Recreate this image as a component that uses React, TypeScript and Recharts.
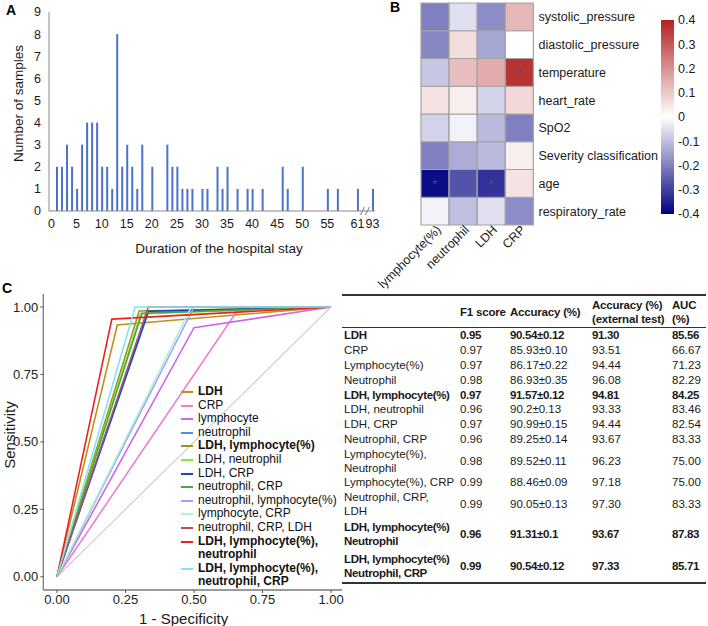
import React from 'react';
import { BarChart, Bar, XAxis, YAxis, Cell, LabelList, LineChart, Line, Legend } from 'recharts';

// ---------- A: length of hospital stay ----------
const stayDays = [1, 2, 3, 4, 5, 6, 7, 8, 9, 10, 11, 12, 13, 14, 15, 16, 17, 18, 20, 23, 24, 25, 26, 27, 28, 30, 31, 33, 34, 35, 37, 39, 40, 42, 46, 47, 50, 55, 57, 61, 93];
const stayCounts = [2, 2, 3, 2, 1, 3, 4, 4, 4, 2, 2, 1, 8, 2, 3, 2, 1, 3, 2, 3, 2, 2, 1, 1, 1, 1, 1, 2, 1, 2, 1, 1, 1, 1, 2, 1, 2, 1, 1, 1, 1];
const stayTickLabels = ['0', '5', '10', '15', '20', '25', '30', '35', '40', '45', '50', '55', '61', '93'];
const breakSlots = ['gap1', 'gap2'];
const sampleTicks = [0, 1, 2, 3, 4, 5, 6, 7, 8, 9];

// ---------- B: correlation heatmap ----------
const heatCols = ['lymphocyte(%)', 'neutrophil', 'LDH', 'CRP'];
const heatRows = ['systolic_pressure', 'diastolic_pressure', 'temperature', 'heart_rate', 'SpO2', 'Severity classification', 'age', 'respiratory_rate'];
const corrLymphocyte = [-0.2, -0.19, -0.09, 0.05, -0.07, -0.2, -0.38, -0.02];
const corrNeutrophil = [-0.05, 0.06, 0.12, 0.03, -0.02, -0.13, -0.27, -0.1];
const corrLDH = [-0.18, -0.14, 0.15, -0.07, -0.11, -0.11, -0.32, -0.05];
const corrCRP = [0.13, 0.0, 0.37, 0.07, -0.2, 0.03, 0.05, -0.18];
const significant = ['temperature|CRP', 'age|lymphocyte(%)', 'age|LDH'];
const colorbarTicks = [0.4, 0.3, 0.2, 0.1, 0, -0.1, -0.2, -0.3, -0.4];

// ---------- C: ROC curves ----------
const rocNames = ['LDH', 'CRP', 'lymphocyte', 'neutrophil', 'LDH, lymphocyte(%)', 'LDH, neutrophil', 'LDH, CRP', 'neutrophil, CRP', 'neutrophil, lymphocyte(%)', 'lymphocyte, CRP', 'neutrophil, CRP, LDH', 'LDH, lymphocyte(%),\nneutrophil', 'LDH, lymphocyte(%),\nneutrophil, CRP'];
const rocFpr = [0.22, 0.667, 0.5, 0.333, 0.3, 0.305, 0.333, 0.31, 0.5, 0.49, 0.333, 0.2, 0.285];
const rocTpr = [0.933, 1.0, 0.923, 0.979, 0.985, 0.974, 0.984, 0.977, 1.0, 1.0, 1.0, 0.955, 1.0];
const rocColors = ['#c0901c', '#f07ad8', '#cc66ee', '#4f8ff0', '#9a9420', '#88e82a', '#1f3fd0', '#46a846', '#a3a0ff', '#a6f5cc', '#a85a5a', '#f02020', '#86e2f0'];
const rocBold = [true, false, false, false, true, false, false, false, false, false, false, true, true];
const rocTicks = [0, 0.25, 0.5, 0.75, 1];

// ---------- table ----------
const modelNames = ['LDH', 'CRP', 'Lymphocyte(%)', 'Neutrophil', 'LDH, lymphocyte(%)', 'LDH, neutrophil', 'LDH, CRP', 'Neutrophil, CRP', 'Lymphocyte(%),\nNeutrophil', 'Lymphocyte(%), CRP', 'Neutrophil, CRP,\nLDH', 'LDH, lymphocyte(%)\nNeutrophil', 'LDH, lymphocyte(%)\nNeutrophil, CRP'];
const f1Scores = ['0.95', '0.97', '0.97', '0.98', '0.97', '0.96', '0.97', '0.96', '0.98', '0.99', '0.99', '0.96', '0.99'];
const accuracies = ['90.54±0.12', '85.93±0.10', '86.17±0.22', '86.93±0.35', '91.57±0.12', '90.2±0.13', '90.99±0.15', '89.25±0.14', '89.52±0.11', '88.46±0.09', '90.05±0.13', '91.31±0.1', '90.54±0.12'];
const externalAcc = ['91.30', '93.51', '94.44', '96.08', '94.81', '93.33', '94.44', '93.67', '96.23', '97.18', '97.30', '93.67', '97.33'];
const aucValues = ['85.56', '66.67', '71.23', '82.29', '84.25', '83.46', '82.54', '83.33', '75.00', '75.00', '83.33', '87.83', '85.71'];
const boldModels = [0, 4, 11, 12];

const FONT = '"Liberation Sans", Arial, Helvetica, sans-serif';
const INK = '#1a1a1a';

const stayData = (() => {
  const rows: { day: string; count: number | null }[] = [];
  const maxRegular = 61;
  for (let d = 0; d <= maxRegular; d++) {
    const i = stayDays.indexOf(d);
    rows.push({ day: String(d), count: i >= 0 ? stayCounts[i] : null });
  }
  breakSlots.forEach((g) => rows.push({ day: g, count: null }));
  stayDays.filter((d) => d > maxRegular).forEach((d) => rows.push({ day: String(d), count: stayCounts[stayDays.indexOf(d)] }));
  return rows;
})();

const corrMatrix = [corrLymphocyte, corrNeutrophil, corrLDH, corrCRP];
const heatData = heatCols.map((name) => {
  const row: Record<string, string | number> = { name };
  heatRows.forEach((_, r) => { row['r' + r] = 1; });
  return row;
});

const corrColor = (v: number) => {
  const t = Math.max(-1, Math.min(1, v / 0.4));
  const end = t >= 0 ? [178, 34, 34] : [0, 0, 128];
  const a = Math.abs(t);
  const c = end.map((e) => Math.round(255 + (e - 255) * a));
  return `rgb(${c[0]},${c[1]},${c[2]})`;
};

const xTitle = (text: string, size: number, dx: number, dy: number) => (props: any) => {
  const vb = props.viewBox;
  return (
    <text x={vb.x + vb.width / 2 + dx} y={vb.y + vb.height + dy} textAnchor="middle" fontSize={size} fontFamily={FONT} fill={INK} dominantBaseline="central">
      {text}
    </text>
  );
};

const yTitle = (text: string, size: number, dx: number, dy: number) => (props: any) => {
  const vb = props.viewBox;
  const cx = vb.x + dx;
  const cy = vb.y + vb.height / 2 + dy;
  return (
    <text x={cx} y={cy} transform={`rotate(-90 ${cx} ${cy})`} textAnchor="middle" fontSize={size} fontFamily={FONT} fill={INK} dominantBaseline="central">
      {text}
    </text>
  );
};

const STAY_TICK_SIZE = 6;
const STAY_TICK_MARGIN = 2;

const StayTick = (props: any) => {
  const { x, y, payload } = props;
  const v = payload.value;
  if (breakSlots.includes(v)) {
    const ay = y - STAY_TICK_SIZE - STAY_TICK_MARGIN;
    return <line x1={x - 2} y1={ay + 4} x2={x + 2} y2={ay - 4} stroke="#777" strokeWidth={1} />;
  }
  if (!stayTickLabels.includes(v)) return null;
  return (
    <text x={x} y={y} dy="0.71em" textAnchor="middle" fontSize={12.5} fontFamily={FONT} fill={INK}>{v}</text>
  );
};

function StayChart() {
  return (
    <BarChart width={380} height={256} data={stayData} margin={{ top: 12, right: 5, left: 0, bottom: 3 }} barCategoryGap={0}>
      <XAxis dataKey="day" interval={0} tickSize={STAY_TICK_SIZE} tickMargin={STAY_TICK_MARGIN} tickLine={false} height={42}
        axisLine={{ stroke: '#8a8a8a' }} tick={<StayTick />}
        label={{ content: xTitle('Duration of the hospital stay', 13.5, 7, -5) }} />
      <XAxis xAxisId="top" dataKey="day" orientation="top" height={0} tick={false} tickLine={false} axisLine={{ stroke: '#8a8a8a' }} />
      <YAxis domain={[0, 9]} ticks={sampleTicks} interval={0} width={49} tickLine={false} tickMargin={2}
        axisLine={{ stroke: '#8a8a8a' }} tick={{ fontSize: 12.5, fill: INK, fontFamily: FONT }}
        label={{ content: yTitle('Number of samples', 13.5, 18, -8) }} />
      <YAxis yAxisId="right" orientation="right" domain={[0, 9]} width={0} tick={false} tickLine={false} axisLine={{ stroke: '#8a8a8a' }} />
      <Bar dataKey="count" fill="#4a72cc" barSize={2} isAnimationActive={false} />
    </BarChart>
  );
}

const HeatColTick = (props: any) => {
  const { x, y, payload } = props;
  const ax = x + 4;
  return (
    <text x={ax} y={y} transform={`rotate(-45 ${ax} ${y})`} textAnchor="end" fontSize={12.5} fontFamily={FONT} fill={INK} dy="0.3em">
      {payload.value}
    </text>
  );
};

const HeatRowTick = (props: any) => {
  const { x, y, payload } = props;
  const n = heatRows.length;
  return (
    <text x={x} y={y} dy="0.35em" textAnchor="start" fontSize={12.5} fontFamily={FONT} fill={INK}>
      {heatRows[n - 1 - Math.floor(payload.value)]}
    </text>
  );
};

function HeatChart() {
  const n = heatRows.length;
  const rowTicks = heatRows.map((_, i) => i + 0.5);
  const order = heatRows.map((_, i) => n - 1 - i);
  return (
    <BarChart width={330} height={300} data={heatData} margin={{ top: 3, right: 0, left: 91, bottom: 0 }} barCategoryGap={0}>
      <XAxis dataKey="name" interval={0} height={75} tickSize={3} tickMargin={0} axisLine={false} tickLine={false} tick={<HeatColTick />} />
      <YAxis orientation="right" domain={[0, n]} ticks={rowTicks} interval={0} width={126.5} axisLine={false} tickLine={false}
        tickSize={3} tickMargin={2} tick={<HeatRowTick />} />
      {order.map((r) => (
        <Bar key={r} dataKey={'r' + r} stackId="h" isAnimationActive={false}>
          {heatCols.map((c, ci) => (
            <Cell key={c} fill={corrColor(corrMatrix[ci][r])} stroke="#a3a3a3" strokeWidth={1.2} />
          ))}
          <LabelList dataKey={'r' + r} content={(p: any) =>
            significant.includes(heatRows[r] + '|' + heatCols[p.index]) ? (
              <text x={p.x + p.width / 2} y={p.y + p.height / 2 + 5} textAnchor="middle" fontSize={11} fontFamily={FONT} fill="#555">*</text>
            ) : null} />
        </Bar>
      ))}
    </BarChart>
  );
}

function ColorBar() {
  const top = colorbarTicks[0];
  const bottom = colorbarTicks[colorbarTicks.length - 1];
  const data = [{ name: 'scale', range: [bottom, top] }];
  return (
    <BarChart width={58} height={240} data={data} margin={{ top: 20, right: 0, left: 10, bottom: 26 }} barCategoryGap={0}>
      <defs>
        <linearGradient id="corrGrad" x1="0" y1="0" x2="0" y2="1">
          {colorbarTicks.map((t) => (
            <stop key={t} offset={(top - t) / (top - bottom)} stopColor={corrColor(t)} />
          ))}
        </linearGradient>
      </defs>
      <XAxis dataKey="name" hide />
      <YAxis orientation="right" domain={[bottom, top]} ticks={colorbarTicks} interval={0} width={34}
        axisLine={false} tickLine={false} tickSize={2} tickMargin={2}
        tickFormatter={(v: number) => (v === 0 ? '0' : v.toFixed(1))}
        tick={{ fontSize: 12.5, fill: INK, textAnchor: 'start', fontFamily: FONT }} />
      <Bar dataKey="range" fill="url(#corrGrad)" barSize={13} isAnimationActive={false} />
    </BarChart>
  );
}

const RocLegend = () => (
  <div style={{ fontSize: 12, lineHeight: '13.6px', color: '#111', fontFamily: FONT }}>
    {rocNames.map((name, i) => (
      <div key={name} style={{ display: 'flex', alignItems: 'flex-start' }}>
        <span style={{ width: 12, height: 2, background: rocColors[i], marginTop: 6, marginRight: 5, flex: 'none' }} />
        <span style={{ whiteSpace: 'pre', fontWeight: rocBold[i] ? 700 : 400 }}>{name}</span>
      </div>
    ))}
  </div>
);

function RocChart() {
  const diagonal = [{ x: 0, y: 0 }, { x: 1, y: 1 }];
  const tickStyle = { fontSize: 13, fill: '#222', fontFamily: FONT };
  return (
    <LineChart width={345} height={346} margin={{ top: 14, right: 3, left: 0, bottom: 0 }}>
      <XAxis type="number" dataKey="x" domain={[-0.05, 1.04]} ticks={rocTicks} interval={0} height={36}
        tickSize={3} tickMargin={2} tickFormatter={(v: number) => v.toFixed(2)}
        axisLine={{ stroke: '#7a7a7a', strokeWidth: 1.3 }} tickLine={{ stroke: '#555' }}
        tick={tickStyle} allowDataOverflow
        label={{ content: xTitle('1 - Specificity', 15, -9, -8) }} />
      <XAxis xAxisId="top" type="number" orientation="top" domain={[-0.05, 1.04]} height={0} tick={false} tickLine={false}
        axisLine={{ stroke: '#7a7a7a', strokeWidth: 1.3 }} />
      <YAxis type="number" domain={[-0.049, 1.048]} ticks={rocTicks} interval={0} width={43.3}
        tickSize={3} tickMargin={2} tickFormatter={(v: number) => v.toFixed(2)}
        axisLine={{ stroke: '#7a7a7a', strokeWidth: 1.3 }} tickLine={{ stroke: '#555' }}
        tick={tickStyle} allowDataOverflow
        label={{ content: yTitle('Sensitivity', 15, 9, -7) }} />
      <YAxis yAxisId="right" type="number" orientation="right" domain={[-0.049, 1.048]} width={0} tick={false} tickLine={false}
        axisLine={{ stroke: '#7a7a7a', strokeWidth: 1.3 }} />
      <Line data={diagonal} dataKey="y" type="linear" stroke="#a0a0a0" strokeWidth={0.8} dot={false} isAnimationActive={false} legendType="none" />
      {rocNames.map((name, i) => (
        <Line key={name} name={name} type="linear" dataKey="y" stroke={rocColors[i]} strokeWidth={1.6} dot={false} isAnimationActive={false}
          data={[{ x: 0, y: 0 }, { x: rocFpr[i], y: rocTpr[i] }, { x: 1, y: 1 }]} />
      ))}
      <Legend layout="vertical" align="center" verticalAlign="middle" content={<RocLegend />}
        wrapperStyle={{ left: 181, top: 105, width: 165, height: 'auto' }} />
    </LineChart>
  );
}

function ResultTable() {
  const th: React.CSSProperties = { fontWeight: 700, textAlign: 'left', verticalAlign: 'middle', padding: '1.5px 0 1.5px 3px', whiteSpace: 'pre', letterSpacing: -0.2 };
  return (
    <table style={{ position: 'absolute', left: 342, top: 294, width: 364, borderCollapse: 'collapse', tableLayout: 'fixed', fontSize: 11.5, lineHeight: '14px', color: INK, fontFamily: FONT }}>
      <colgroup>
        <col style={{ width: 118 }} /><col style={{ width: 47 }} /><col style={{ width: 83 }} /><col style={{ width: 78 }} /><col style={{ width: 38 }} />
      </colgroup>
      <thead>
        <tr style={{ borderTop: '2px solid #333', borderBottom: '1px solid #333' }}>
          <th style={th} />
          <th style={{ ...th, paddingLeft: 0 }}>F1 score</th>
          <th style={th}>Accuracy (%)</th>
          <th style={{ ...th, paddingLeft: 2 }}>{'Accuracy (%)\n(external test)'}</th>
          <th style={{ ...th, paddingLeft: 4 }}>{'AUC\n(%)'}</th>
        </tr>
      </thead>
      <tbody>
        {modelNames.map((name, i) => {
          const bold = boldModels.includes(i);
          const multi = name.includes('\n');
          const pad = bold && multi ? 1.8 : 0.4;
          const td: React.CSSProperties = {
            padding: `${pad}px 0 ${pad}px 3px`, verticalAlign: 'middle', fontWeight: bold ? 700 : 400,
            whiteSpace: 'pre', letterSpacing: bold ? -0.35 : 0,
          };
          const last = i === modelNames.length - 1;
          return (
            <tr key={i} style={last ? { borderBottom: '2px solid #333' } : undefined}>
              <td style={{ ...td, paddingLeft: 2 }}>{name}</td>
              <td style={{ ...td, paddingLeft: 0 }}>{f1Scores[i]}</td>
              <td style={td}>{accuracies[i]}</td>
              <td style={{ ...td, paddingLeft: 2 }}>{externalAcc[i]}</td>
              <td style={{ ...td, paddingLeft: 4 }}>{aucValues[i]}</td>
            </tr>
          );
        })}
      </tbody>
    </table>
  );
}

const panelLetter = (ch: string, left: number, top: number) => (
  <div style={{ position: 'absolute', left, top, fontSize: 14, fontWeight: 700, lineHeight: '14px' }}>{ch}</div>
);

export default function App() {
  return (
    <div style={{ position: 'absolute', left: 0, top: 0, width: 708, height: 626, background: '#fff', overflow: 'hidden', fontFamily: FONT }}>
      <div style={{ position: 'absolute', left: 0, top: 0 }}><StayChart /></div>
      <div style={{ position: 'absolute', left: 330, top: 0 }}><HeatChart /></div>
      <div style={{ position: 'absolute', left: 650, top: 0 }}><ColorBar /></div>
      <div style={{ position: 'absolute', left: 0, top: 280 }}><RocChart /></div>
      <ResultTable />
      {panelLetter('A', 6, 3)}
      {panelLetter('B', 390, 0)}
      {panelLetter('C', 2, 281)}
    </div>
  );
}
